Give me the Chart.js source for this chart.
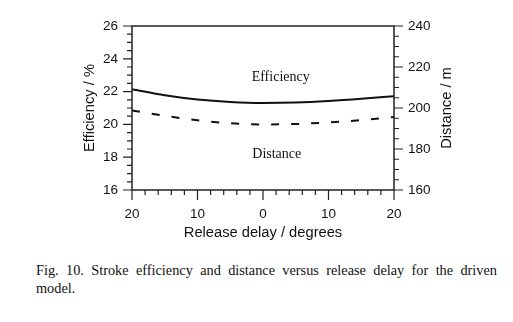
<!DOCTYPE html>
<html>
<head>
<meta charset="utf-8">
<script src="https://cdn.jsdelivr.net/npm/chart.js@4.4.1/dist/chart.umd.min.js"></script>
<style>
  html, body { margin: 0; padding: 0; background: #fff; }
  #wrap { position: relative; width: 513px; height: 322px; }
  #box { position: absolute; left: 0; top: 0; width: 513px; height: 250px; }
  #caption {
    position: absolute; left: 36px; top: 261px; width: 461px;
    font-family: "Liberation Serif", "Times New Roman", serif;
    font-size: 14.3px; line-height: 18px; color: #111;
    text-align: justify;
  }
</style>
</head>
<body>
<div id="wrap">
  <div id="box"><canvas id="chart"></canvas></div>
  <div id="caption">Fig. 10. Stroke efficiency and distance versus release delay for the driven model.</div>
</div>
<script>
// release delay in degrees (labels shown as absolute values)
let delay = [-20, -15, -10, -5, 0, 5, 10, 15, 20];
let efficiency = [22.15, 21.78, 21.52, 21.37, 21.31, 21.34, 21.43, 21.56, 21.72];
let distance = [198.8, 196.2, 194.0, 192.6, 192.0, 192.2, 193.0, 194.1, 195.6];

let effTicks = [16, 18, 20, 22, 24, 26];
let distTicks = [160, 180, 200, 220, 240];
let delayTicks = [-20, -10, 0, 10, 20];

const sans = "'Liberation Sans', Arial, sans-serif";
const serif = "'Liberation Serif', 'Times New Roman', serif";

function points(ys) {
    return delay.map((d, i) => ({ x: d, y: ys[i] }));
}

// draws the frame, tick marks, axis titles and curve names
const decorations = {
    id: 'decorations',
    afterDraw(chart) {
        const ctx = chart.ctx;
        const a = chart.chartArea;
        const x = chart.scales.x, yL = chart.scales.y, yR = chart.scales.y2;
        ctx.save();
        ctx.strokeStyle = '#222';
        ctx.lineWidth = 1.5;
        ctx.strokeRect(a.left, a.top, a.right - a.left, a.bottom - a.top);

        ctx.lineWidth = 1.2;
        ctx.beginPath();
        for (let v = -20; v <= 20; v += 2) {
            const px = x.getPixelForValue(v);
            const len = (v % 10 === 0) ? 10 : 5;
            ctx.moveTo(px, a.bottom);
            ctx.lineTo(px, a.bottom + len);
        }
        for (let v = 16; v <= 26; v += 0.5) {
            const py = yL.getPixelForValue(v);
            const len = (v % 2 === 0) ? 9 : 5;
            ctx.moveTo(a.left, py);
            ctx.lineTo(a.left - len, py);
        }
        for (let v = 160; v <= 240; v += 5) {
            const py = yR.getPixelForValue(v);
            const len = (v % 20 === 0) ? 9 : 5;
            ctx.moveTo(a.right, py);
            ctx.lineTo(a.right + len, py);
        }
        ctx.stroke();

        ctx.fillStyle = '#111';
        ctx.font = '14.7px ' + sans;
        ctx.textAlign = 'center';
        ctx.textBaseline = 'middle';
        const midY = (a.top + a.bottom) / 2;
        ctx.fillText('Release delay / degrees', (a.left + a.right) / 2, 233);

        ctx.save();
        ctx.translate(90, midY);
        ctx.rotate(-Math.PI / 2);
        ctx.fillText('Efficiency / %', 0, 0);
        ctx.restore();

        ctx.save();
        ctx.translate(447, midY);
        ctx.rotate(-Math.PI / 2);
        ctx.fillText('Distance / m', 0, 0);
        ctx.restore();

        ctx.font = '14px ' + serif;
        ctx.fillText('Efficiency', x.getPixelForValue(2.7), yL.getPixelForValue(22.9));
        ctx.fillText('Distance', x.getPixelForValue(2.1), yR.getPixelForValue(177.6));
        ctx.restore();
    }
};

const ctx = document.getElementById('chart').getContext('2d');

new Chart(ctx, {
    type: 'line',
    data: {
        datasets: [{
            label: 'Efficiency',
            data: points(efficiency),
            yAxisID: 'y',
            borderColor: '#111',
            borderWidth: 2,
            pointRadius: 0,
            cubicInterpolationMode: 'monotone'
        }, {
            label: 'Distance',
            data: points(distance),
            yAxisID: 'y2',
            borderColor: '#111',
            borderWidth: 2,
            borderDash: [8, 12],
            pointRadius: 0,
            cubicInterpolationMode: 'monotone'
        }]
    },
    options: {
        responsive: true,
        maintainAspectRatio: false,
        animation: false,
        layout: { padding: { top: 26, left: 0, right: 0, bottom: 0 } },
        plugins: {
            legend: { display: false },
            tooltip: { enabled: false }
        },
        scales: {
            x: {
                type: 'linear',
                min: -20,
                max: 20,
                afterFit: (s) => { s.height = 60; },
                afterBuildTicks: (s) => { s.ticks = delayTicks.map(v => ({ value: v })); },
                grid: { display: false, drawTicks: false },
                border: { display: false },
                ticks: {
                    padding: 16,
                    color: '#111',
                    font: { family: sans, size: 13.5 },
                    maxRotation: 0,
                    callback: (v) => String(Math.abs(v))
                }
            },
            y: {
                position: 'left',
                min: 16,
                max: 26,
                afterFit: (s) => { s.width = 132; },
                afterBuildTicks: (s) => { s.ticks = effTicks.map(v => ({ value: v })); },
                grid: { display: false, drawTicks: false },
                border: { display: false },
                ticks: {
                    padding: 14,
                    color: '#111',
                    font: { family: sans, size: 13.5 }
                }
            },
            y2: {
                position: 'right',
                min: 160,
                max: 240,
                afterFit: (s) => { s.width = 119; },
                afterBuildTicks: (s) => { s.ticks = distTicks.map(v => ({ value: v })); },
                grid: { display: false, drawTicks: false },
                border: { display: false },
                ticks: {
                    padding: 14,
                    color: '#111',
                    font: { family: sans, size: 13.5 }
                }
            }
        }
    },
    plugins: [decorations]
});
</script>
</body>
</html>
